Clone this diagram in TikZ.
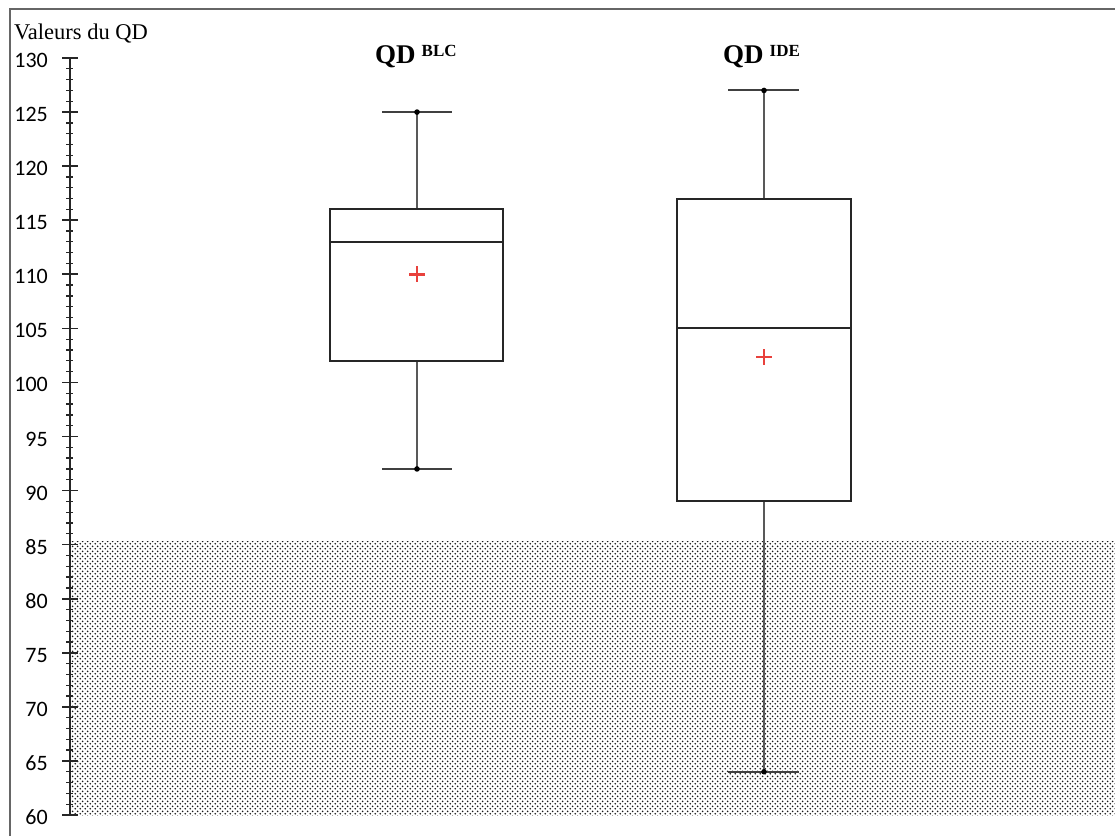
\documentclass[tikz,border=0pt]{standalone}
\usepackage{fontspec}
\setmainfont{Liberation Serif}
\newfontfamily\tickfont{Carlito}
\usetikzlibrary{patterns}
\pgfdeclarepatternformonly{qddots}{\pgfpointorigin}{\pgfqpoint{5.4pt}{5.4pt}}{\pgfqpoint{5.4pt}{5.4pt}}{%
  \pgfpathcircle{\pgfqpoint{1.35pt}{1.35pt}}{1.0pt}%
  \pgfpathcircle{\pgfqpoint{4.05pt}{4.05pt}}{1.0pt}%
  \pgfusepath{fill}}
\definecolor{meanred}{HTML}{E8413C}
\tikzset{
  framest/.style={draw=black!60, line width=2.4pt},
  axisst/.style={draw=black!85, line width=1.7pt},
  majortick/.style={draw=black!85, line width=1.7pt},
  minortick/.style={draw=black!85, line width=1.3pt},
  ticklabel/.style={font=\tickfont\fontsize{22}{22}\selectfont, inner sep=0pt, anchor=base east},
  boxst/.style={draw=black!85, line width=1.9pt},
  whiskst/.style={draw=black!65, line width=2.3pt},
  capst/.style={draw=black!75, line width=1.9pt},
  endpt/.style={fill=black},
  meanst/.style={draw=meanred, line width=2.5pt},
  titlest/.style={inner sep=0pt, anchor=base west},
  shade/.style={pattern=qddots, pattern color=black!90},
}
\begin{document}
\begin{tikzpicture}[x=1pt,y=-1pt, declare function={Y(\v)=58+(130-\v)*10.814;}]
\useasboundingbox (0,0) rectangle (1115,836);
\fill[white] (0,0) rectangle (1115,836);
% shaded zone below 85
\fill[shade] (70,541) rectangle (1115,815);
% frame
\draw[framest] (10,836) -- (10,9) -- (1115,9);
% axis title
\node[titlest, font=\fontsize{22.5}{22.5}\selectfont] (ytitle) at (14,39) {Valeurs du QD};
% axis
\draw[axisst] (70,{Y(130)}) -- (70,{Y(60)});
\foreach \v in {61,...,129} {\draw[minortick] (66,{Y(\v)}) -- (73,{Y(\v)});}
\foreach \v in {60,65,...,130} {
  \draw[majortick] (62,{Y(\v)}) -- (78,{Y(\v)});
  \node[ticklabel] (t\v) at (48,{Y(\v)+9.5}) {\v};
}
% titles
\node[titlest] (tblc) at (375,63) {\fontsize{27}{27}\selectfont\bfseries QD\kern6pt\raisebox{6.5pt}{\fontsize{17}{17}\selectfont BLC}};
\node[titlest] (tide) at (723,63) {\fontsize{27}{27}\selectfont\bfseries QD\kern6pt\raisebox{6.5pt}{\fontsize{17}{17}\selectfont IDE}};
% ---- box BLC ----
\draw[whiskst] (417,{Y(116)}) -- (417,{Y(125)});
\draw[whiskst] (417,{Y(102)}) -- (417,{Y(92)});
\draw[capst] (382,{Y(125)}) -- (452,{Y(125)});
\draw[capst] (382,{Y(92)}) -- (452,{Y(92)});
\fill[endpt] (417,{Y(125)}) circle (2.8pt);
\fill[endpt] (417,{Y(92)}) circle (2.8pt);
\draw[boxst] (330,{Y(116)}) rectangle (503,{Y(102)});
\draw[boxst] (330,{Y(113)}) -- (503,{Y(113)});
\draw[meanst] (409,{Y(110)}) -- (425,{Y(110)}) (417,{Y(110)-8}) -- (417,{Y(110)+8});
% ---- box IDE ----
\draw[whiskst] (764,{Y(117)}) -- (764,{Y(127)});
\draw[whiskst] (764,{Y(89)}) -- (764,{Y(64)});
\draw[capst] (728,{Y(127)}) -- (799,{Y(127)});
\draw[capst] (728,{Y(64)}) -- (799,{Y(64)});
\fill[endpt] (764,{Y(127)}) circle (2.8pt);
\fill[endpt] (764,{Y(64)}) circle (2.8pt);
\draw[boxst] (677,{Y(117)}) rectangle (851,{Y(89)});
\draw[boxst] (677,{Y(105)}) -- (851,{Y(105)});
\draw[meanst] (756,357) -- (772,357) (764,349) -- (764,365);
\end{tikzpicture}
\end{document}
